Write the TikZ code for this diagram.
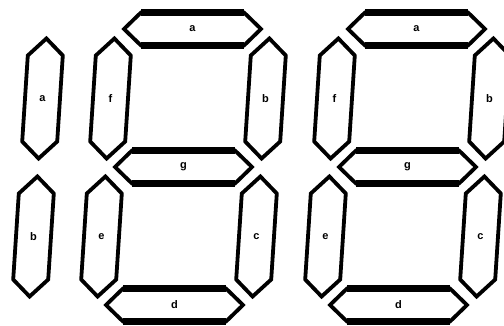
\documentclass[tikz,border=0pt]{standalone}
\usepackage{fontspec}
\setmainfont{Liberation Sans}

\begin{document}
\begin{tikzpicture}[x=1pt,y=-1pt,
  segline/.style={line width=3.8pt},
  segedge/.style={line width=6.5pt},
  seglabel/.style={font=\fontsize{11}{13}\selectfont\bfseries, inner sep=0pt}]
\useasboundingbox (0,0) rectangle (504,326);
\clip (0,0) rectangle (504,326);

% horizontal segment: name, x, y, text
\def\hseg#1#2#3#4{
  \draw[segline] (#2-68.5,#3) -- (#2-51.5,#3-16.5) -- (#2+51.5,#3-16.5) -- (#2+68.5,#3)
    -- (#2+51.5,#3+16.5) -- (#2-51.5,#3+16.5) -- cycle;
  \draw[segedge] (#2-51.5,#3-16.5) -- (#2+51.5,#3-16.5) (#2-51.5,#3+16.5) -- (#2+51.5,#3+16.5);
  \node[seglabel] (#1) at (#2,#3) {#4};
}
% vertical segment, slanted
\def\vseg#1#2#3#4{
  \begin{scope}[shift={(#2,#3)},xslant=0.065]
    \draw[segline] (0,-60) -- (17.5,-43) -- (17.5,43) -- (0,60) -- (-17.5,43) -- (-17.5,-43) -- cycle;
  \end{scope}
  \node[seglabel] (#1) at (#2,#3) {#4};
}
% whole digit, g centred at (x, 167)
\def\digit#1#2{
  \hseg{#1a}{#2+9}{29}{a}
  \vseg{#1f}{#2-73}{98.5}{f}
  \vseg{#1b}{#2+82}{98.5}{b}
  \hseg{#1g}{#2}{167}{g}
  \vseg{#1e}{#2-82}{236.5}{e}
  \vseg{#1c}{#2+73}{236.5}{c}
  \hseg{#1d}{#2-9}{305}{d}
}

% the "1" on the left
\vseg{la}{42.5}{98.5}{a}
\vseg{lb}{33.5}{236.5}{b}

\digit{m}{183.5}
\digit{r}{407.5}
\end{tikzpicture}
\end{document}
